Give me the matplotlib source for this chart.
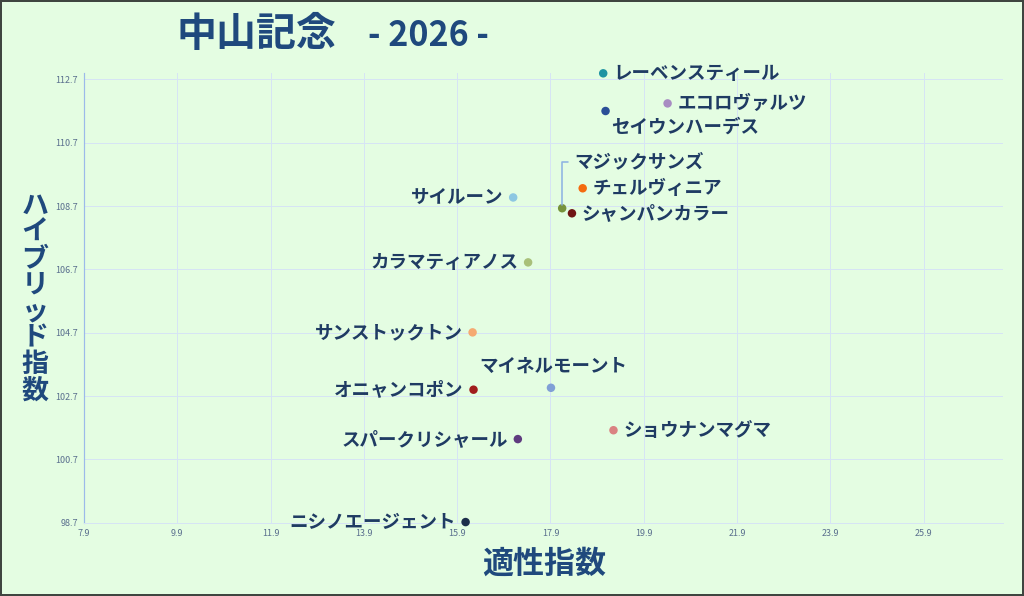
import matplotlib
matplotlib.use("Agg")
import matplotlib.pyplot as plt
from matplotlib.patches import Rectangle

plt.rcParams['font.family'] = ['Noto Sans CJK JP', 'DejaVu Sans']

# ---- data ----
names = ["レーベンスティール", "エコロヴァルツ", "セイウンハーデス", "サイルーン",
         "マジックサンズ", "チェルヴィニア", "シャンパンカラー", "カラマティアノス",
         "サンストックトン", "マイネルモーント", "オニャンコポン", "ショウナンマグマ",
         "スパークリシャール", "ニシノエージェント"]
tekisei = [19.03, 20.41, 19.08, 17.10, 18.15, 18.59, 18.36, 17.42,
           16.23, 17.91, 16.25, 19.25, 17.20, 16.08]
hybrid = [112.89, 111.94, 111.70, 108.97, 108.63, 109.26, 108.47, 106.92,
          104.71, 102.96, 102.90, 101.62, 101.34, 98.72]
x_ticks = [7.9, 9.9, 11.9, 13.9, 15.9, 17.9, 19.9, 21.9, 23.9, 25.9]
y_ticks = [98.7, 100.7, 102.7, 104.7, 106.7, 108.7, 110.7, 112.7]
title_main = "中山記念"
title_year = "- 2026 -"
x_title = "適性指数"
y_title = "ハイブリッド指数"

# ---- styles ----
dot_colors = ["#1E93A3", "#A88CC2", "#2B4F97", "#8DC7E2", "#77933C", "#F46B10",
              "#701515", "#A9C07A", "#F5AA72", "#809FD6", "#A11D1D", "#DA8282",
              "#5F3B7F", "#1C2E4A"]
# (dx, dy, ha) in pixels
placements = [(10, 0, "left"), (10, 0, "left"), (6, -16, "left"), (-10, 0, "right"),
              (12, 46, "left"), (10, 0, "left"), (10, 0, "left"), (-10, 0, "right"),
              (-10, 0, "right"), (2, 22, "center"), (-10, 0, "right"), (10, 0, "left"),
              (-10, 0, "right"), (-10, 0, "right")]

bg = "#E4FDE2"
txt = "#1F3B63"
LBL = 18.5

W, H = 1024, 596
fig = plt.figure(figsize=(W / 72, H / 72), dpi=72, facecolor=bg)
ax = fig.add_axes([84 / W, 1 - 522.7 / H, (1003 - 84) / W, (522.7 - 73) / H])
ax.set_facecolor(bg)
ax.set_xlim(7.9, 27.6)
ax.set_ylim(98.7, 112.9)
ax.set_xticks(x_ticks)
ax.set_yticks(y_ticks)
ax.set_xticklabels([f"{v:.1f}" for v in x_ticks])
ax.set_yticklabels([f"{v:.1f}" for v in y_ticks])
ax.tick_params(axis="both", length=0, labelsize=9, labelcolor="#5A6F8E", pad=6)
ax.grid(True, color="#D6E4F4", lw=1)
ax.set_axisbelow(True)
for s in ["top", "right"]:
    ax.spines[s].set_visible(False)
ax.spines["left"].set_color("#9CBAEA")
ax.spines["left"].set_linewidth(1.2)
ax.spines["bottom"].set_color("#D6E4F4")
ax.spines["bottom"].set_linewidth(1)

ax.scatter(tekisei, hybrid, s=72, c=dot_colors, zorder=3, linewidths=0, clip_on=False)

for name, xv, yv, (dx, dy, ha) in zip(names, tekisei, hybrid, placements):
    if name == "マジックサンズ":
        ax.annotate(name, (xv, yv), xytext=(dx, dy), textcoords="offset points",
                    ha=ha, va="center", fontsize=LBL, fontweight="bold", color=txt,
                    arrowprops=dict(arrowstyle="-", color="#8EB4E3", lw=1.6,
                                    shrinkA=4, shrinkB=3, relpos=(0, 0.5),
                                    connectionstyle="angle,angleA=0,angleB=90,rad=0"),
                    zorder=4, annotation_clip=False)
    else:
        ax.annotate(name, (xv, yv), xytext=(dx, dy), textcoords="offset points",
                    ha=ha, va="center", fontsize=LBL, fontweight="bold", color=txt,
                    zorder=4, annotation_clip=False)

# titles
fig.text(177 / W, 1 - 35 / H, title_main, fontsize=40, fontweight="bold",
         color="#1F497D", ha="left", va="center")
fig.text(368 / W, 1 - 35 / H, title_year, fontsize=34, fontweight="bold",
         color="#1F497D", ha="left", va="center")
fig.text(544 / W, 1 - 564 / H, x_title, fontsize=31, fontweight="bold",
         color="#1F497D", ha="center", va="center")
fig.text(35 / W, 1 - 298 / H, "\n".join(y_title), fontsize=27, fontweight="bold",
         color="#1F497D", ha="center", va="center", linespacing=0.93)

# outer frame
fig.patches.append(Rectangle((0, 0), 1, 1, transform=fig.transFigure, fill=False,
                             edgecolor="#3F4540", lw=4))

fig.savefig("out.png", dpi=72, facecolor=bg)
